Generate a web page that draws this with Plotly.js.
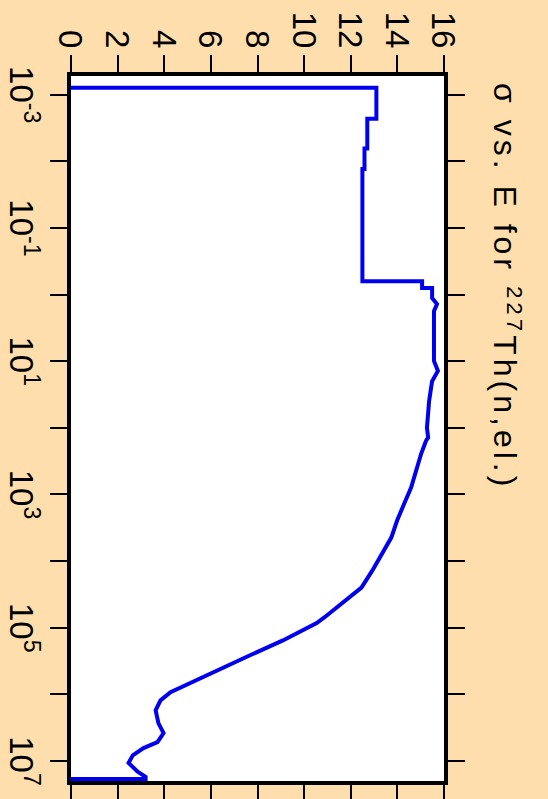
<!DOCTYPE html>
<html><head><meta charset="utf-8">
<script src="https://cdn.plot.ly/plotly-3.0.1.min.js"></script>
<style>
html,body{margin:0;padding:0;width:548px;height:799px;overflow:hidden;background:#FFDEAD;}
#chart{position:absolute;left:0;top:0;width:799px;height:548px;transform-origin:0 0;transform:translate(548px,0) rotate(90deg);}
#chart .gtitle{letter-spacing:4px;}
</style></head><body><div id="chart"></div>
<script>
// Energy (eV) and elastic cross-section sigma (barns)
const energyEV = [7.9e-4, 7.9e-4, 2.3e-3, 2.3e-3, 6.4e-3, 6.4e-3, 1.3e-2, 1.3e-2, 0.63, 0.63,
  0.80, 0.80, 1.13, 1.39, 1.77, 4.2, 9.9, 14, 20, 40,
  100, 141, 156, 245, 437, 790, 1380, 2460, 4440, 7740,
  13800, 25000, 43000, 69500, 85000, 117000, 155000, 259000, 434000, 658000,
  930000, 1.23e6, 1.73e6, 2.7e6, 3.8e6, 5.2e6, 6.4e6, 8.2e6, 1.07e7, 1.45e7,
  1.73e7, 1.86e7, 1.86e7];
const sigmaB = [0, 13.1, 13.1, 12.71, 12.71, 12.59, 12.59, 12.5, 12.5, 15.06,
  15.06, 15.49, 15.49, 15.7, 15.57, 15.57, 15.57, 15.74, 15.49, 15.36,
  15.27, 15.32, 15.23, 15.02, 14.80, 14.59, 14.29, 13.99, 13.74, 13.35,
  12.93, 12.46, 11.65, 10.88, 10.54, 9.81, 9.09, 7.68, 6.27, 5.12,
  4.27, 3.84, 3.63, 3.75, 3.97, 3.71, 3.11, 2.65, 2.47, 2.86,
  3.2, 3.2, 0];
const energyLabelVals = [1e-3, 1e-1, 10, 1e3, 1e5, 1e7];
const energyLabelText = ['10<sup>-3</sup>', '10<sup>-1</sup>', '10<sup>1</sup>', '10<sup>3</sup>', '10<sup>5</sup>', '10<sup>7</sup>'];
const energyMinorVals = [1e-2, 1, 100, 1e4, 1e6];
const sigmaTickVals = [0, 2, 4, 6, 8, 10, 12, 14, 16];
const titleText = 'σ vs. E for <sup>227</sup>Th(n,el.)';

const trace = {
  x: energyEV, y: sigmaB, type: 'scatter', mode: 'lines',
  line: {color: '#0000ee', width: 4, shape: 'linear'},
  hoverinfo: 'skip'
};
const axisCommon = {
  ticks: 'outside', ticklen: 17, tickwidth: 2, tickcolor: '#000',
  showline: true, linewidth: 4, linecolor: '#000', mirror: 'all',
  showgrid: false, zeroline: false,
  tickfont: {family: '"Liberation Sans", Arial, sans-serif', size: 33, color: '#000'}
};
const layout = {
  width: 799, height: 548,
  paper_bgcolor: '#FFDEAD', plot_bgcolor: '#ffffff',
  margin: {l: 76, r: 18, t: 104, b: 71, pad: 0},
  showlegend: false,
  font: {family: '"Liberation Sans", Arial, sans-serif', size: 33, color: '#000'},
  title: {text: titleText, font: {family: '"Liberation Sans", Arial, sans-serif', size: 32, color: '#000'},
    x: 83/799, xref: 'container', xanchor: 'left', y: 1 - 32/548, yref: 'container', yanchor: 'top'},
  xaxis: Object.assign({}, axisCommon, {type: 'log', range: [-3.28, 7.30], tickmode: 'array',
    tickvals: energyLabelVals, ticktext: energyLabelText,
    minor: {tickmode: 'array', tickvals: energyMinorVals, ticks: 'outside', ticklen: 17, tickwidth: 2, tickcolor: '#000', showgrid: false}}),
  yaxis: Object.assign({}, axisCommon, {range: [0, 16], tickmode: 'array', tickvals: sigmaTickVals,
    ticktext: sigmaTickVals.map(String)})
};
Plotly.newPlot('chart', [trace], layout, {staticPlot: true, displayModeBar: false});
</script></body></html>
